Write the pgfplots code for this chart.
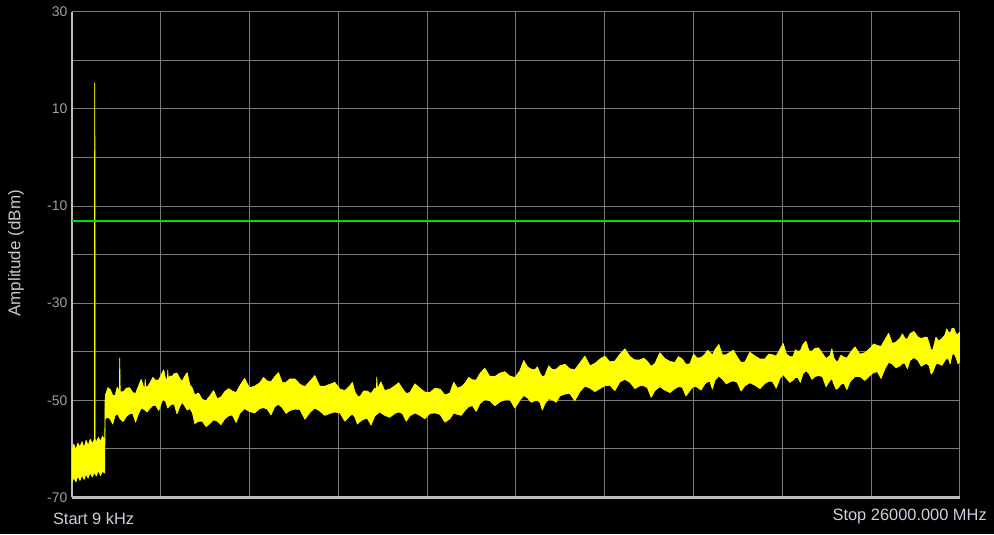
\documentclass[border=0pt]{standalone}
\usepackage{pgfplots}
\pgfplotsset{compat=1.18}
\usepackage{fontspec}
\setmainfont{Liberation Sans}
\definecolor{trace}{HTML}{FFFF00}
\definecolor{limitgreen}{HTML}{00DD00}
\definecolor{gridgray}{HTML}{7A7A7A}
\definecolor{axisgray}{HTML}{BDBDBD}
\definecolor{ticktext}{HTML}{9E9E9E}
\definecolor{labeltext}{HTML}{C8C8C8}
\definecolor{freqtext}{HTML}{C9D1DD}

\begin{document}
\begin{tikzpicture}
\useasboundingbox (-53.8pt,-27.5pt) rectangle (691.5pt,373pt);
\fill[black] (-53.8pt,-27.5pt) rectangle (691.5pt,373pt);
\begin{axis}[
  at={(0,0)}, anchor=south west,
  scale only axis, width=666pt, height=364.2pt,
  xmin=0, xmax=26000, ymin=-70, ymax=30,
  xtick={0,2600,...,26000}, xmajorticks=false,
  ytick={-70,-60,...,30},
  yticklabels={-70,,-50,,-30,,-10,,10,,30},
  major tick length=0pt,
  grid=major,
  major grid style={gridgray, line width=0.75pt},
  axis x line*=bottom, axis y line*=left,
  axis line style={axisgray, line width=1.6pt, -},
  yticklabel style={font=\fontsize{10.5}{12}\selectfont, text=ticktext, anchor=east, inner sep=0pt, xshift=-3pt},
  scaled x ticks=false,
]
% measured trace: upper edge left to right, then lower edge back
\addplot[draw=trace, fill=trace, line width=0.5pt, line join=round] coordinates {
(0,-60.5) (60,-59.0) (120,-60.2) (180,-58.8) (240,-59.6) (300,-58.5)
(360,-59.8) (420,-58.2) (480,-59.3) (540,-58.0) (600,-58.9) (650,-58.3)
(662,-58) (668,0) (671,14) (673,15.4) (676,14) (679,0) (684,-58)
(720,-58.6) (780,-57.6) (840,-58.5) (900,-57.4) (950,-58.0) (966,-57.8)
(975,-50.0) (990,-48.8) (1060,-47.4) (1130,-47.8) (1200,-49.0) (1270,-49.0)
(1330,-47.3) (1390,-48.3) (1405,-41.3) (1420,-48.3) (1510,-48.2) (1600,-47.5)
(1693,-47.4) (1786,-48.4) (1868,-48.6) (1950,-47.1) (2035,-45.7) (2120,-47.7)
(2135,-47.5) (2150,-45.7) (2165,-47.3) (2225,-47.1) (2284,-46.5) (2372,-45.3)
(2460,-45.9) (2548,-45.8) (2635,-44.5) (2692,-43.7) (2750,-45.7) (2800,-45.5)
(2810,-43.8) (2825,-45.5) (2870,-45.0) (2935,-45.1) (3000,-44.5) (3081,-44.4)
(3162,-45.5) (3231,-46.1) (3300,-45.1) (3378,-44.3) (3455,-46.8) (3530,-47.5)
(3601,-48.9) (3710,-48.5) (3820,-49.8) (3930,-50.1) (4041,-49.1) (4150,-48.0)
(4260,-49.7) (4370,-49.3) (4480,-48.2) (4590,-47.6) (4700,-48.1) (4810,-48.4)
(4919,-47.0) (5060,-45.5) (5200,-47.4) (5350,-47.1) (5505,-46.4) (5612,-45.3)
(5720,-46.0) (5832,-46.2) (5944,-45.1) (6052,-44.3) (6160,-46.3) (6272,-46.3)
(6383,-45.6) (6530,-45.6) (6680,-46.7) (6825,-47.2) (6969,-46.1) (7115,-44.9)
(7260,-47.1) (7407,-47.1) (7554,-46.7) (7700,-46.3) (7850,-47.7) (7995,-48.0)
(8140,-47.0) (8215,-46.3) (8290,-48.3) (8360,-49.1) (8433,-49.3) (8540,-48.1)
(8650,-48.1) (8760,-48.6) (8872,-47.5) (8915,-47.7) (8930,-45.2) (8945,-47.7)
(9050,-46.2) (9160,-48.0) (9310,-47.7) (9458,-47.0) (9570,-46.4) (9680,-47.6)
(9790,-48.6) (9897,-48.4) (10045,-46.6) (10190,-47.5) (10335,-48.3) (10482,-48.4)
(10630,-47.5) (10780,-47.7) (10925,-48.9) (11068,-48.5) (11180,-46.3) (11290,-47.5)
(11400,-47.2) (11507,-46.5) (11620,-45.3) (11730,-45.8) (11840,-45.8) (11946,-44.5)
(12090,-43.4) (12240,-45.1) (12385,-45.1) (12532,-44.4) (12675,-44.1) (12820,-45.0)
(12970,-45.3) (13117,-43.9) (13230,-41.8) (13340,-43.1) (13450,-43.6) (13557,-43.7)
(13630,-43.1) (13700,-44.3) (13775,-45.2) (13849,-44.9) (13960,-42.9) (14070,-43.7)
(14180,-43.6) (14288,-42.9) (14435,-42.6) (14580,-43.5) (14725,-43.7) (14874,-42.3)
(15020,-40.9) (15170,-42.9) (15315,-42.4) (15459,-41.5) (15605,-40.9) (15750,-42.1)
(15900,-41.9) (16045,-40.5) (16190,-39.4) (16340,-41.0) (16485,-41.7) (16630,-41.7)
(16740,-41.3) (16850,-42.0) (16960,-43.0) (17070,-42.4) (17215,-40.2) (17360,-41.4)
(17510,-42.0) (17655,-42.2) (17760,-41.0) (17870,-41.5) (17980,-42.6) (18094,-42.5)
(18200,-40.5) (18310,-41.3) (18420,-41.2) (18534,-40.5) (18607,-39.7) (18680,-40.1)
(18753,-40.7) (18826,-39.6) (18940,-38.5) (19050,-40.7) (19160,-40.6) (19266,-40.1)
(19370,-39.7) (19480,-41.1) (19590,-42.2) (19705,-42.1) (19850,-40.1) (20000,-40.9)
(20145,-41.5) (20290,-41.5) (20400,-40.5) (20510,-40.6) (20620,-40.9) (20731,-39.5)
(20825,-38.3) (20920,-40.5) (21015,-41.0) (21111,-41.0) (21180,-39.6) (21250,-39.9)
(21327,-39.8) (21404,-38.5) (21490,-37.8) (21580,-39.8) (21667,-39.9) (21755,-39.3)
(21860,-39.2) (21970,-40.3) (22080,-41.4) (22194,-40.8) (22250,-39.4) (22310,-41.3)
(22370,-41.9) (22428,-42.0) (22515,-40.7) (22600,-41.1) (22690,-41.3) (22780,-40.3)
(22925,-39.0) (23070,-40.5) (23215,-40.2) (23365,-39.3) (23470,-38.4) (23580,-38.7)
(23690,-38.9) (23804,-37.5) (23910,-36.2) (24020,-38.3) (24130,-38.0) (24243,-37.2)
(24315,-36.3) (24390,-37.3) (24460,-37.4) (24536,-36.3) (24650,-35.8) (24760,-36.9)
(24870,-37.3) (24975,-37.0) (25040,-37.0) (25100,-38.3) (25155,-39.7) (25209,-39.5)
(25295,-37.0) (25380,-37.8) (25470,-37.3) (25561,-36.5) (25610,-35.3) (25660,-35.9)
(25713,-36.2) (25766,-35.2) (25823,-35.2) (25880,-36.3) (25940,-36.4) (26000,-35.9)
(26000,-42.0) (25940,-42.5) (25880,-41.1) (25823,-40.3) (25766,-40.7) (25713,-42.5)
(25660,-41.5) (25610,-41.4) (25561,-41.8) (25470,-42.8) (25380,-42.5) (25295,-42.5)
(25209,-44.1) (25155,-44.6) (25100,-42.9) (25040,-42.5) (24975,-42.5) (24870,-43.0)
(24760,-41.7) (24650,-41.2) (24536,-41.8) (24460,-43.5) (24390,-42.4) (24315,-42.4)
(24243,-42.9) (24130,-43.3) (24020,-42.5) (23910,-42.2) (23804,-43.5) (23690,-45.5)
(23580,-44.1) (23470,-44.3) (23365,-44.9) (23215,-45.9) (23070,-45.1) (22925,-45.1)
(22780,-46.2) (22690,-47.8) (22600,-46.5) (22515,-46.7) (22428,-47.5) (22370,-47.7)
(22310,-46.7) (22250,-45.5) (22194,-45.9) (22080,-47.2) (21970,-45.1) (21860,-44.9)
(21755,-45.1) (21667,-45.7) (21580,-44.5) (21490,-43.9) (21404,-44.5) (21327,-46.3)
(21250,-45.3) (21180,-45.3) (21111,-45.9) (21015,-46.3) (20920,-45.5) (20825,-44.7)
(20731,-45.5) (20620,-47.5) (20510,-46.1) (20400,-46.1) (20290,-46.5) (20145,-47.6)
(20000,-46.9) (19850,-46.4) (19705,-47.0) (19590,-48.1) (19480,-46.3) (19370,-46.0)
(19266,-46.2) (19160,-46.6) (19050,-45.7) (18940,-45.0) (18826,-45.9) (18753,-47.7)
(18680,-46.1) (18607,-46.2) (18534,-46.6) (18420,-47.9) (18310,-47.3) (18200,-47.1)
(18094,-48.0) (17980,-49.1) (17870,-47.3) (17760,-47.2) (17655,-47.6) (17510,-48.4)
(17360,-47.9) (17215,-47.2) (17070,-48.0) (16960,-49.4) (16850,-47.4) (16740,-47.0)
(16630,-47.0) (16485,-47.6) (16340,-46.3) (16190,-45.7) (16045,-46.2) (15900,-48.0)
(15750,-46.9) (15605,-47.0) (15459,-47.6) (15315,-48.2) (15170,-47.5) (15020,-47.1)
(14874,-48.2) (14725,-50.1) (14580,-48.6) (14435,-48.7) (14288,-49.1) (14180,-50.4)
(14070,-49.9) (13960,-49.7) (13849,-50.7) (13775,-52.0) (13700,-50.4) (13630,-50.0)
(13557,-50.1) (13450,-50.4) (13340,-49.5) (13230,-49.0) (13117,-50.0) (12970,-51.6)
(12820,-49.8) (12675,-49.9) (12532,-50.3) (12385,-51.1) (12240,-50.1) (12090,-49.8)
(11946,-50.7) (11840,-52.3) (11730,-51.1) (11620,-51.3) (11507,-52.1) (11400,-53.1)
(11290,-52.9) (11180,-52.6) (11068,-53.8) (10925,-54.5) (10780,-52.9) (10630,-52.6)
(10482,-52.7) (10335,-53.8) (10190,-53.1) (10045,-52.6) (9897,-53.2) (9790,-54.3)
(9680,-52.7) (9570,-52.4) (9458,-52.7) (9310,-53.5) (9160,-53.1) (9015,-52.4)
(8872,-53.2) (8760,-55.1) (8650,-53.7) (8540,-53.9) (8433,-54.4) (8360,-54.9)
(8290,-53.5) (8215,-52.8) (8140,-53.2) (7995,-54.3) (7850,-52.6) (7700,-52.4)
(7554,-52.7) (7407,-53.1) (7260,-52.2) (7115,-51.6) (6969,-52.5) (6825,-53.9)
(6680,-51.9) (6530,-51.8) (6383,-52.1) (6272,-52.7) (6160,-51.5) (6052,-50.8)
(5944,-51.3) (5832,-53.0) (5720,-51.8) (5612,-51.5) (5505,-51.7) (5350,-52.6)
(5200,-52.3) (5060,-51.7) (4919,-52.7) (4810,-54.6) (4700,-53.0) (4590,-53.2)
(4480,-53.8) (4370,-55.0) (4260,-54.3) (4150,-54.0) (4041,-54.8) (3930,-55.4)
(3820,-54.3) (3710,-54.3) (3601,-54.8) (3530,-52.5) (3455,-51.7) (3378,-52.0)
(3300,-51.1) (3231,-50.4) (3162,-51.3) (3081,-52.8) (3000,-50.8) (2935,-50.8)
(2870,-51.1) (2810,-51.6) (2750,-50.3) (2692,-49.7) (2635,-50.3) (2548,-52.1)
(2460,-51.1) (2372,-51.1) (2284,-51.7) (2202,-52.4) (2120,-51.9) (2035,-51.6)
(1950,-52.8) (1868,-54.5) (1786,-52.7) (1693,-52.8) (1600,-53.3) (1502,-54.4)
(1405,-53.7) (1338,-52.8) (1270,-53.1) (1200,-54.9) (1130,-53.9) (1060,-53.5)
(990,-53.7) (975,-54.0)
(966,-65.0) (900,-64.6) (840,-65.5) (780,-64.4) (720,-65.6) (660,-64.8)
(600,-65.8) (540,-64.9) (480,-66.0) (420,-65.2) (360,-66.3) (300,-65.4)
(240,-66.5) (180,-65.6) (120,-66.8) (60,-65.9) (0,-67.0)
} -- cycle;
% limit line
\addplot[limitgreen, line width=1.5pt] coordinates {(0,-13) (26000,-13)};
\end{axis}
\node[anchor=base west, inner sep=0pt, text=freqtext, font=\fontsize{12.3}{14}\selectfont] at (-14.25pt,-20pt) {Start 9 kHz};
\node[anchor=base east, inner sep=0pt, text=freqtext, font=\fontsize{12.3}{14}\selectfont] at (686.25pt,-17.5pt) {Stop 26000.000 MHz};
\node[rotate=90, inner sep=0pt, text=labeltext, font=\fontsize{12.75}{15}\selectfont] at (-41.8pt,183pt) {Amplitude (dBm)};
\end{tikzpicture}
\end{document}
